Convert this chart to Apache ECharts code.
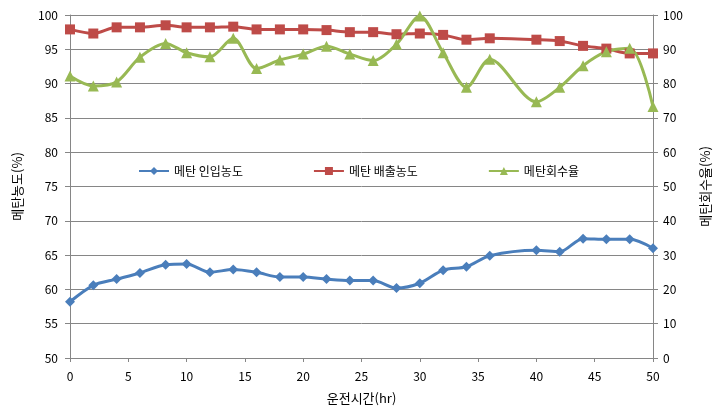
<!DOCTYPE html>
<html>
<head>
<meta charset="utf-8">
<script src="https://cdn.jsdelivr.net/npm/echarts@6/dist/echarts.min.js"></script>
<style>
  html, body { margin: 0; padding: 0; background: #fff; }
  #chart { width: 720px; height: 418px; }
</style>
</head>
<body>
<div id="chart"></div>
<script>
// 운전시간 (hr)
var hours = [0, 2, 4, 6, 8.2, 10, 12, 14, 16, 18, 20, 22, 24, 26, 28, 30, 32, 34, 36, 40, 42, 44, 46, 48, 50]
// 메탄 인입농도 (%), 왼쪽 축
var inletConc = [58.2, 60.6, 61.5, 62.4, 63.6, 63.7, 62.5, 62.9, 62.5, 61.8, 61.8, 61.5, 61.3, 61.3, 60.2, 60.9, 62.8, 63.3, 64.9, 65.7, 65.5, 67.4, 67.3, 67.3, 66.0]
// 메탄 배출농도 (%), 왼쪽 축
var outletConc = [97.9, 97.3, 98.2, 98.2, 98.5, 98.2, 98.2, 98.3, 97.9, 97.9, 97.9, 97.8, 97.5, 97.5, 97.2, 97.3, 97.1, 96.4, 96.6, 96.4, 96.2, 95.5, 95.1, 94.4, 94.4]
// 메탄회수율 (%), 오른쪽 축
var recovery = [82.2, 79.3, 80.5, 87.7, 91.7, 89.0, 87.8, 93.2, 84.4, 86.9, 88.6, 90.9, 88.6, 86.7, 91.5, 99.7, 89.0, 78.9, 87.1, 74.7, 78.9, 85.2, 89.3, 90.3, 73.3]

function pairs (vals) {
  return hours.map(function (h, i) { return [h, vals[i]] })
}

var font = '"Noto Sans CJK KR", "Noto Sans", sans-serif'
var axisGrey = '#868686'

var myChart = echarts.init(document.getElementById('chart'))
myChart.setOption({
  animation: false,
  textStyle: { fontFamily: font },
  color: ['#4A7EBB', '#BE4B48', '#98B954'],
  legend: {
    left: 133,
    top: 160,
    itemWidth: 30,
    itemHeight: 10,
    itemGap: 70,
    textStyle: { fontSize: 12, color: '#000', fontFamily: font },
    data: ['메탄 인입농도', '메탄 배출농도', '메탄회수율']
  },
  grid: { left: 70, right: 62, top: 15, bottom: 60 },
  xAxis: {
    type: 'value',
    min: 0,
    max: 50,
    interval: 5,
    name: '운전시간(hr)',
    nameLocation: 'middle',
    nameGap: 34,
    nameTextStyle: { fontSize: 13, color: '#000', fontFamily: font },
    axisLine: { lineStyle: { color: axisGrey } },
    axisTick: { length: 4, lineStyle: { color: axisGrey } },
    axisLabel: { fontSize: 12, color: '#000', margin: 12 },
    splitLine: { show: false }
  },
  yAxis: [
    {
      type: 'value',
      min: 50,
      max: 100,
      interval: 5,
      name: '메탄농도(%)',
      nameLocation: 'middle',
      nameRotate: 90,
      nameGap: 46,
      nameTextStyle: { fontSize: 13, color: '#000', fontFamily: font },
      axisLine: { show: true, lineStyle: { color: axisGrey } },
      axisTick: { show: true, length: 5, lineStyle: { color: axisGrey } },
      axisLabel: { fontSize: 12, color: '#000', margin: 12 },
      splitLine: { lineStyle: { color: axisGrey, width: 1 } }
    },
    {
      type: 'value',
      min: 0,
      max: 100,
      interval: 10,
      name: '메탄회수율(%)',
      nameLocation: 'middle',
      nameRotate: 90,
      nameGap: 46,
      nameTextStyle: { fontSize: 13, color: '#000', fontFamily: font },
      axisLine: { show: true, lineStyle: { color: axisGrey } },
      axisTick: { show: true, length: 5, lineStyle: { color: axisGrey } },
      axisLabel: { fontSize: 12, color: '#000', margin: 10 },
      splitLine: { show: false }
    }
  ],
  series: [
    {
      name: '메탄 인입농도',
      type: 'line',
      yAxisIndex: 0,
      smooth: 0.3,
      symbol: 'diamond',
      symbolSize: 10,
      lineStyle: { width: 3 },
      data: pairs(inletConc)
    },
    {
      name: '메탄 배출농도',
      type: 'line',
      yAxisIndex: 0,
      smooth: 0.3,
      symbol: 'rect',
      symbolSize: 10,
      lineStyle: { width: 3 },
      data: pairs(outletConc)
    },
    {
      name: '메탄회수율',
      type: 'line',
      yAxisIndex: 1,
      smooth: 0.3,
      symbol: 'triangle',
      symbolSize: 11,
      lineStyle: { width: 3 },
      data: pairs(recovery)
    }
  ]
})
</script>
</body>
</html>
